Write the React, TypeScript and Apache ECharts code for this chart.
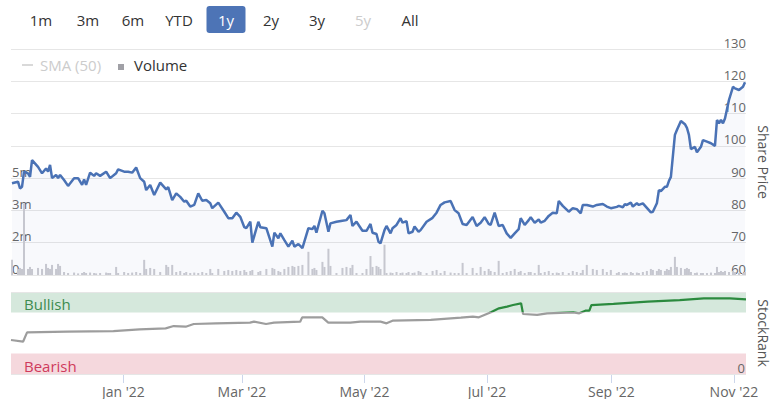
import React, { useEffect, useRef } from 'react';
import * as echarts from 'echarts';

// ---------- data ----------
const priceDates = [
  '2021-11-06','2021-11-09','2021-11-10','2021-11-11','2021-11-12','2021-11-14','2021-11-15','2021-11-16','2021-11-19','2021-11-21','2021-11-23','2021-11-24','2021-11-25','2021-11-26','2021-11-28','2021-11-29','2021-11-30',
  '2021-12-02','2021-12-04','2021-12-07','2021-12-09','2021-12-11','2021-12-12','2021-12-13','2021-12-15','2021-12-17','2021-12-18','2021-12-20','2021-12-23','2021-12-24','2021-12-25','2021-12-28','2021-12-29',
  '2022-01-01','2022-01-03','2022-01-05','2022-01-07','2022-01-09','2022-01-11','2022-01-12','2022-01-14','2022-01-16','2022-01-19','2022-01-22','2022-01-23','2022-01-25','2022-01-27','2022-01-29','2022-01-31',
  '2022-02-01','2022-02-03','2022-02-05','2022-02-07','2022-02-09','2022-02-11','2022-02-13','2022-02-14','2022-02-17','2022-02-20','2022-02-22','2022-02-24','2022-02-26','2022-02-28',
  '2022-03-02','2022-03-03','2022-03-05','2022-03-06','2022-03-09','2022-03-10','2022-03-13','2022-03-16','2022-03-17','2022-03-19','2022-03-20','2022-03-22','2022-03-24','2022-03-26','2022-03-27','2022-03-29','2022-03-31',
  '2022-04-03','2022-04-05','2022-04-06','2022-04-07','2022-04-10','2022-04-11','2022-04-13','2022-04-14','2022-04-17','2022-04-20','2022-04-22','2022-04-24','2022-04-25','2022-04-27','2022-04-30',
  '2022-05-02','2022-05-04','2022-05-05','2022-05-07','2022-05-08','2022-05-09','2022-05-11','2022-05-12','2022-05-14','2022-05-15','2022-05-17','2022-05-19','2022-05-20','2022-05-22','2022-05-23','2022-05-25','2022-05-26','2022-05-28','2022-05-29',
  '2022-06-01','2022-06-04','2022-06-06','2022-06-08','2022-06-10','2022-06-13','2022-06-15','2022-06-17','2022-06-19','2022-06-21','2022-06-24','2022-06-26','2022-06-28','2022-06-30',
  '2022-07-02','2022-07-03','2022-07-05','2022-07-07','2022-07-09','2022-07-11','2022-07-13','2022-07-15','2022-07-17','2022-07-18','2022-07-20','2022-07-22','2022-07-23','2022-07-25','2022-07-27','2022-07-28','2022-07-30',
  '2022-08-01','2022-08-03','2022-08-05','2022-08-06','2022-08-08','2022-08-11','2022-08-13','2022-08-15','2022-08-17','2022-08-18','2022-08-20','2022-08-23','2022-08-25','2022-08-28','2022-08-30',
  '2022-09-01','2022-09-04','2022-09-05','2022-09-07','2022-09-08','2022-09-09','2022-09-11','2022-09-12','2022-09-14','2022-09-15','2022-09-17','2022-09-19','2022-09-21','2022-09-22','2022-09-24','2022-09-25','2022-09-26','2022-09-28','2022-09-29','2022-09-30',
  '2022-10-01','2022-10-03','2022-10-04','2022-10-06','2022-10-08','2022-10-09','2022-10-10','2022-10-11','2022-10-13','2022-10-14','2022-10-16','2022-10-17','2022-10-19','2022-10-21','2022-10-23','2022-10-24','2022-10-25','2022-10-26','2022-10-27','2022-10-28','2022-10-30',
  '2022-11-01','2022-11-02','2022-11-04','2022-11-06','2022-11-07',
];

const sharePrice = [
  88.4,88.9,86.8,87.3,92.0,91.5,90.4,95.6,93.5,91.5,93.0,92.0,94.1,90.0,91.0,90.0,91.0,
  89.4,87.6,90.0,90.0,87.9,89.6,87.9,91.7,90.7,91.5,90.7,92.0,91.0,90.0,91.5,92.7,
  92.0,92.0,91.7,93.3,90.0,88.9,86.3,87.9,84.8,88.6,86.5,87.2,83.2,85.3,84.2,82.7,
  83.0,81.2,81.7,85.3,83.0,83.2,82.2,80.7,82.4,79.6,77.6,77.6,79.3,78.0,
  74.8,74.5,76.5,70.0,76.5,74.8,74.5,68.8,73.1,71.4,72.9,70.8,68.8,70.6,68.8,69.6,68.3,
  74.5,74.2,75.2,73.1,79.9,79.1,73.4,76.0,76.5,76.8,77.0,78.6,75.2,76.5,73.7,
  73.7,75.8,73.1,72.7,70.3,69.8,73.9,75.2,72.9,74.5,75.5,77.6,76.2,76.7,72.9,73.4,75.0,73.4,73.9,
  76.5,77.7,79.3,81.7,82.5,82.9,80.1,79.1,75.8,75.5,78.0,75.2,76.2,77.9,
  75.8,75.5,79.3,75.2,75.5,72.9,71.5,72.9,74.2,77.6,75.5,77.0,77.9,76.2,77.2,76.2,76.8,
  78.3,79.3,79.1,82.9,81.4,79.6,80.7,80.4,79.1,81.7,81.7,81.2,81.7,82.0,81.2,
  80.7,81.1,81.4,81.0,81.9,81.7,82.4,81.2,82.2,81.7,82.2,80.8,79.4,79.6,82.2,86.3,86.0,87.3,87.3,89.1,
  90.4,103.4,104.9,107.7,106.7,105.6,103.4,99.0,99.7,98.0,99.7,101.8,101.3,100.8,100.0,108.0,107.0,108.0,107.0,108.5,114.2,
  118.3,117.8,117.3,118.3,119.7,
];

// volume, millions of shares
const volumeM = [
  0.75,0.3,0.35,0.3,3.55,0.3,0.4,0.3,0.35,0.3,0.55,0.35,0.3,0.5,0.3,0.55,0.45,
  0.15,0.1,0.12,0.08,0.1,0.15,0.1,0.12,0.1,0.08,0.1,0.12,0.1,0.1,0.4,0.1,
  0.15,0.1,0.12,0.15,0.1,0.75,0.3,0.35,0.3,0.15,0.5,0.4,0.5,0.15,0.2,0.1,
  0.15,0.1,0.12,0.1,0.15,0.1,0.3,0.1,0.3,0.2,0.25,0.2,0.25,0.2,
  0.25,0.15,0.2,0.25,0.15,0.2,0.3,0.35,0.3,0.2,0.15,0.3,0.4,0.45,0.4,0.45,0.5,
  1.15,0.3,0.35,0.25,0.65,0.4,1.3,0.45,0.1,0.35,0.4,0.35,0.5,0.1,0.1,
  0.3,0.94,0.4,0.45,0.4,0.3,1.5,0.1,0.12,0.1,0.15,0.1,0.12,0.1,0.15,0.1,0.12,0.2,0.15,
  0.1,0.2,0.25,0.1,0.2,0.12,0.1,0.1,0.6,0.1,0.35,0.1,0.4,0.2,
  0.3,0.2,0.15,0.7,0.1,0.15,0.2,0.3,0.15,0.2,0.1,0.15,0.15,0.1,0.5,0.1,0.15,
  0.2,0.1,0.12,0.1,0.15,0.1,0.2,0.15,0.1,0.25,0.5,0.3,0.25,0.3,0.15,
  0.25,0.1,0.15,0.1,0.12,0.1,0.15,0.1,0.12,0.1,0.15,0.2,0.3,0.25,0.2,0.3,0.25,0.2,0.3,0.25,
  0.4,0.9,0.4,0.35,0.3,0.35,0.3,0.15,0.1,0.12,0.1,0.1,0.1,0.12,0.1,0.4,0.15,0.2,0.15,0.2,0.15,
  0.2,0.15,0.1,0.1,0.15,
];

const rankDates = [
  '2021-11-06','2021-11-12','2021-11-14','2021-12-04','2021-12-27','2022-01-09','2022-01-22','2022-01-26','2022-02-01','2022-02-05','2022-02-16',
  '2022-03-05','2022-03-07','2022-03-13','2022-03-17','2022-03-30','2022-03-31','2022-04-10','2022-04-13','2022-04-24','2022-04-29',
  '2022-05-09','2022-05-12','2022-05-15','2022-06-03','2022-06-18','2022-06-24','2022-06-27','2022-07-03','2022-07-07','2022-07-11',
  '2022-07-14','2022-07-18','2022-07-19','2022-07-26','2022-07-31','2022-08-13','2022-08-16','2022-08-19','2022-08-21','2022-08-22',
  '2022-09-02','2022-09-19','2022-10-05','2022-10-17','2022-10-30','2022-11-07',
];
const stockRank = [
  41.5,39.4,50.8,51.6,52.4,54.5,55.7,58.5,57.7,61,61.8,
  62.6,63.8,61,62.6,63.8,69.1,69.1,62.6,62.6,63.8,
  63.8,61.8,65,65.9,68.7,69.9,69.1,75.2,80.1,82.1,
  84.1,86.2,73.2,72,74,75.2,74,77.2,77.2,84.1,
  85.4,88.2,90.2,92.3,92.3,91.1,
];

const xStart = '2021-11-06';
const xEnd = '2022-11-07';
const rangeButtons = ['1m','3m','6m','YTD','1y','2y','3y','5y','All'];
const selectedRange = '1y';
const disabledRange = '5y';
const bullishRange = [75, 100];
const bearishRange = [0, 25];
const rankGreenAbove = 76;
const monthNames = ['Jan','Feb','Mar','Apr','May','Jun','Jul','Aug','Sep','Oct','Nov','Dec'];

// ---------- helpers ----------
function ts(s: string): number {
  const [y, m, d] = s.split('-').map(Number);
  return new Date(y, m - 1, d).getTime();
}

const FONT = "'Open Sans', 'Noto Sans', sans-serif";

export default function App() {
  const ref = useRef<HTMLDivElement>(null);

  useEffect(() => {
    document.body.style.margin = '0';
    if (!ref.current) return;
    const chart = echarts.init(ref.current, undefined, { renderer: 'svg' });

    const priceData = priceDates.map((d, i) => [ts(d), sharePrice[i]]);
    const volData = priceDates.map((d, i) => [ts(d), volumeM[i]]);
    const rankData = rankDates.map((d, i) => [ts(d), stockRank[i]]);

    const btnX = [41, 88, 133, 179, 226, 271, 317, 363, 410];
    const selIdx = rangeButtons.indexOf(selectedRange);

    const option: any = {
      animation: false,
      textStyle: { fontFamily: FONT },
      grid: [
        { left: 11, right: 34, top: 49, height: 226 },
        { left: 11, right: 34, top: 292, height: 82 },
      ],
      xAxis: [
        { type: 'time', gridIndex: 0, min: ts(xStart), max: ts(xEnd), show: false, splitLine: { show: false } },
        {
          type: 'time', gridIndex: 1, min: ts(xStart), max: ts(xEnd), splitNumber: 5,
          axisLine: { show: false },
          axisTick: { show: true, length: 9, lineStyle: { color: '#ccd6eb' } },
          axisLabel: {
            color: '#666', fontSize: 14, margin: 10, fontFamily: FONT, hideOverlap: false,
            formatter: (v: number) => {
              const d = new Date(v);
              return monthNames[d.getMonth()] + " '" + String(d.getFullYear()).slice(2);
            },
          },
          splitLine: { show: false },
        },
      ],
      yAxis: [
        {
          type: 'value', gridIndex: 0, position: 'right', min: 60, max: 130, interval: 10,
          name: 'Share Price', nameLocation: 'middle', nameRotate: -90, nameGap: 10,
          nameTextStyle: { color: '#555', fontSize: 14, fontFamily: FONT },
          axisLine: { show: false }, axisTick: { show: false },
          axisLabel: { inside: true, align: 'right', verticalAlign: 'bottom', margin: 0, color: '#666', fontSize: 13, fontFamily: FONT, showMinLabel: true, showMaxLabel: true },
          splitLine: { show: true, lineStyle: { color: '#e6e6e6', width: 1 } },
        },
        {
          type: 'value', gridIndex: 0, position: 'left', min: 0, max: 11.2, interval: 1.6,
          axisLine: { show: false }, axisTick: { show: false }, splitLine: { show: false },
          axisLabel: {
            inside: true, align: 'left', verticalAlign: 'bottom', margin: 1, color: '#666', fontSize: 13, fontFamily: FONT,
            formatter: (v: number) => (v === 0 ? '0' : v < 5 ? Math.round(v) + 'm' : ''),
          },
        },
        {
          type: 'value', gridIndex: 1, position: 'right', min: 0, max: 100, interval: 100, z: 10,
          name: 'StockRank', nameLocation: 'middle', nameRotate: -90, nameGap: 10,
          nameTextStyle: { color: '#555', fontSize: 14, fontFamily: FONT },
          axisLine: { show: false }, axisTick: { show: false },
          axisLabel: {
            inside: true, align: 'right', verticalAlign: 'bottom', margin: 1, color: '#666', fontSize: 13, fontFamily: FONT,
            showMinLabel: true,
            formatter: (v: number) => (v === 0 ? '0' : ''),
          },
          splitLine: { show: true, lineStyle: { color: '#e6e6e6', width: 1 } },
        },
      ],
      visualMap: {
        show: false, seriesIndex: 2, dimension: 1,
        pieces: [
          { gt: rankGreenAbove, lte: 100, color: '#2b8a3e' },
          { gte: 0, lte: rankGreenAbove, color: '#9d9d9d' },
        ],
      },
      series: [
        {
          name: 'Share Price', type: 'line', xAxisIndex: 0, yAxisIndex: 0, data: priceData,
          showSymbol: false, z: 3,
          lineStyle: { color: '#4a72b5', width: 2.5 },
          itemStyle: { color: '#4a72b5' },
          areaStyle: { color: 'rgba(74,114,181,0.055)', origin: 'start' },
        },
        {
          name: 'Volume', type: 'bar', xAxisIndex: 0, yAxisIndex: 1, data: volData,
          barWidth: 2, itemStyle: { color: '#cbcbd1' }, z: 2,
        },
        {
          name: 'StockRank', type: 'line', xAxisIndex: 1, yAxisIndex: 2, data: rankData,
          showSymbol: false, lineStyle: { width: 2.2 }, z: 3,
          markArea: {
            silent: true,
            data: [
              [
                { yAxis: bullishRange[0], itemStyle: { color: '#d5e8dc' },
                  label: { show: true, position: 'insideLeft', distance: 13, offset: [0, 2], formatter: 'Bullish', color: '#3d8b4f', fontSize: 15, fontFamily: FONT } },
                { yAxis: bullishRange[1] },
              ],
              [
                { yAxis: bearishRange[0], itemStyle: { color: '#f5d8dd' },
                  label: { show: true, position: 'insideLeft', distance: 13, offset: [0, 2], formatter: 'Bearish', color: '#cf3b5c', fontSize: 15, fontFamily: FONT } },
                { yAxis: bearishRange[1] },
              ],
            ],
          },
        },
      ],
      graphic: [
        { type: 'rect', shape: { x: btnX[selIdx] - 19.5, y: 6, width: 39, height: 27, r: 3 }, style: { fill: '#4d74b6' } },
        ...rangeButtons.map((b, i) => ({
          type: 'text', x: btnX[i], y: 20,
          style: {
            text: b, fontSize: 15, fontFamily: FONT, align: 'center', verticalAlign: 'middle',
            fill: b === selectedRange ? '#ffffff' : b === disabledRange ? '#cccccc' : '#333333',
          },
        })),
        { type: 'line', shape: { x1: 22, y1: 65, x2: 33, y2: 65 }, style: { stroke: '#cccccc', lineWidth: 1.5 } },
        { type: 'text', x: 40, y: 65, style: { text: 'SMA (50)', fontSize: 15, fontFamily: FONT, fill: '#cccccc', align: 'left', verticalAlign: 'middle' } },
        { type: 'rect', shape: { x: 118, y: 64, width: 6, height: 6 }, style: { fill: '#a0a0a6' } },
        { type: 'text', x: 134, y: 65, style: { text: 'Volume', fontSize: 15, fontFamily: FONT, fill: '#333333', align: 'left', verticalAlign: 'middle' } },
      ],
    };

    chart.setOption(option);
    return () => chart.dispose();
  }, []);

  return <div ref={ref} style={{ width: 780, height: 399 }} />;
}
